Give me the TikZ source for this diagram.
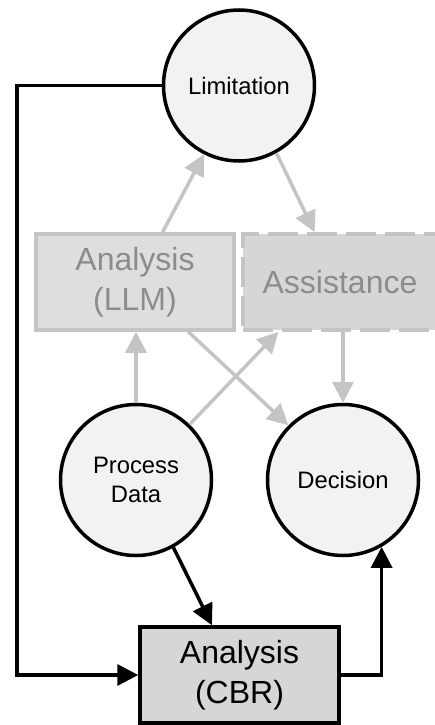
\documentclass[tikz,border=0pt]{standalone}
\usepackage{fontspec}
\setmainfont{Liberation Sans}
\usetikzlibrary{arrows.meta}

\definecolor{circfill}{HTML}{F2F2F2}
\definecolor{llmfill}{HTML}{DEDEDE}
\definecolor{boxfill}{HTML}{D6D6D6}
\definecolor{faint}{HTML}{C4C4C4}
\definecolor{fainttext}{HTML}{8C8C8C}

\begin{document}
\begin{tikzpicture}[x=1pt,y=-1pt,>={Triangle[length=21pt,width=21pt]},
  state/.style={circle,draw=black,line width=3.5pt,fill=circfill,minimum size=151pt,
    inner sep=0pt,align=center,font=\fontsize{23.8}{28.5}\selectfont},
  stepbox/.style={rectangle,line width=3.5pt,inner sep=0pt,align=center,
    font=\fontsize{32}{40}\selectfont},
  link/.style={->,line width=3.5pt,black},
  faintlink/.style={->,line width=3.5pt,faint}]

\useasboundingbox (0,0) rectangle (435,725);

% ---------------- NODES ----------------
\node[state] (lim) at (239,85.5) {Limitation};
\node[state] (proc) at (136,480) {Process\\Data};
\node[state] (dec) at (343,480) {Decision};

\node[stepbox,draw=faint,fill=llmfill,text=fainttext,
  minimum width=198pt,minimum height=96pt] (llm) at (135,282) {Analysis\\(LLM)};
\node[stepbox,draw=faint,fill=boxfill,text=fainttext,dash pattern=on 30pt off 9pt,
  minimum width=194pt,minimum height=96pt] (assist) at (340,282) {Assistance};
\node[stepbox,draw=black,fill=boxfill,
  minimum width=199pt,minimum height=96pt] (cbr) at (239.5,675) {Analysis\\(CBR)};

% ---------------- FAINT (LLM) PATH ----------------
\draw[faintlink] (llm.61) -- (lim.-117);
\draw[faintlink] (lim.-61) -- (assist.117);
\draw[faintlink] (proc.north) -- (proc |- llm.south);
\draw[faintlink] (proc.46) -- (assist.-141);
\draw[faintlink] (llm.-43) -- (dec.135);
\draw[faintlink] (dec |- assist.south) -- (dec.north);

% ---------------- CBR PATH ----------------
\coordinate (back) at (17,85.5);
\draw[link] (lim.west) -- (back) |- (cbr.west);
\draw[link] (proc.-61) -- (cbr.119);
\draw[link] (cbr.east) -| (dec.-60);

\end{tikzpicture}
\end{document}
